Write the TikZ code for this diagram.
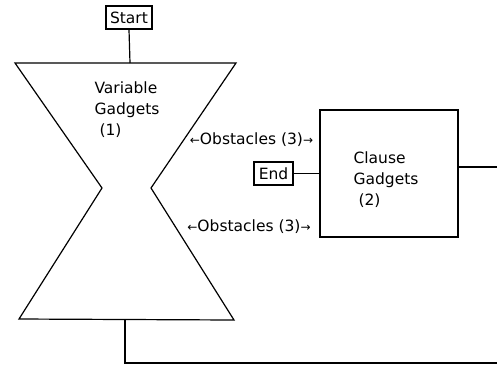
\documentclass[tikz,border=0pt]{standalone}
\usepackage{fontspec}
\setmainfont{DejaVu Sans}
\begin{document}
\begin{tikzpicture}[x=1pt,y=-1pt,line width=1.2pt,
  box/.style={draw,inner sep=2pt,minimum height=23pt,font=\fontsize{15.5}{17}\selectfont},
  txt/.style={align=left,font=\fontsize{15.5}{21}\selectfont,inner sep=0pt},
  lbl/.style={font=\fontsize{15.5}{17}\selectfont,inner sep=0pt},
  arr/.style={font=\fontsize{12}{14}\selectfont}]
\useasboundingbox (0,0) rectangle (497,365);
% hourglass
\coordinate (h1) at (15,63);
\coordinate (h2) at (236,63);
\coordinate (h3) at (151,188);
\coordinate (h4) at (234,320);
\coordinate (h5) at (19,319);
\coordinate (h6) at (102,188);
\draw (h1) -- (h2) -- (h3) -- (h4) -- (h5) -- (h6) -- cycle;
\coordinate (htop) at (130,63);
\coordinate (hbot) at (125,319.5);
\node[txt] (var) at (127,110) {Variable\\Gadgets\\\hspace{5pt}(1)};
\node[box,minimum width=46pt] (start) at (129,17.5) {Start};
\draw (start.south) -- (htop);
% clause box
\node[draw,minimum width=138pt,minimum height=127pt,inner sep=0pt] (clause) at (389,173.5) {};
\node[txt] (ctext) at (386,180) {Clause\\Gadgets\\\hspace{5pt}(2)};
\node[box,minimum width=39pt] (end) at (273.5,173.5) {End};
\draw (end.east) -- (end.east -| clause.west);
% obstacles
\node[lbl] (ob1) at (251.5,140) {{\fontsize{12}{14}\selectfont ←}Obstacles (3){\fontsize{12}{14}\selectfont →}};
\node[lbl] (ob2) at (249,227) {{\fontsize{12}{14}\selectfont ←}Obstacles (3){\fontsize{12}{14}\selectfont →}};
% outgoing lines
\coordinate (r1) at (497,167);
\draw (clause.east |- r1) -- (r1);
\coordinate (r2) at (497,363);
\draw (hbot) |- (r2);
\end{tikzpicture}
\end{document}
